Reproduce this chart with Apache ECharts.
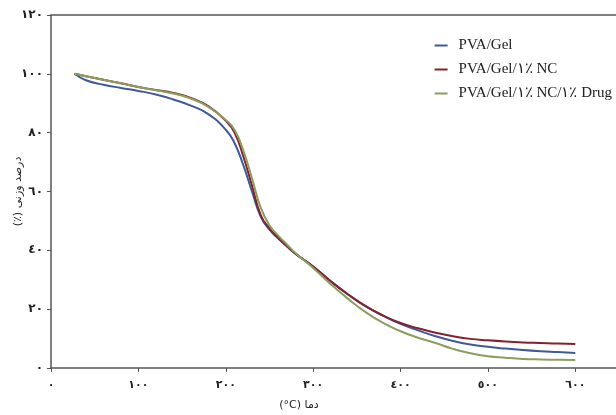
<!DOCTYPE html>
<html>
<head>
  <meta charset="UTF-8">
  <title>TGA</title>
  <script src="https://cdn.jsdelivr.net/npm/echarts@6/dist/echarts.min.js"></script>
  <style>
    html, body { margin: 0; padding: 0; background: #fff; }
    #chart { width: 616px; height: 415px; }
  </style>
</head>
<body>
  <div id="chart"></div>
  <script>
    // temperature (°C) and weight percent for each sample
    const temps = [27, 40, 60, 80, 100, 120, 140, 160, 180, 200, 210, 220, 230, 240, 250, 260, 270, 280, 300, 320, 340, 360, 380, 400, 420, 440, 460, 480, 500, 520, 540, 560, 580, 600]
    const pvaGel = [100, 97.8, 96.3, 95.2, 94.2, 93, 91.3, 89.2, 86.3, 81, 76.5, 69, 60, 51.5, 47, 44, 41.3, 38.8, 34.5, 29.5, 25, 21, 17.8, 15, 12.8, 10.8, 9.2, 8, 7.2, 6.6, 6.1, 5.7, 5.4, 5.1]
    const pvaGelNc = [100, 99.2, 98, 96.8, 95.5, 94.5, 93.5, 91.8, 89, 84, 80, 72, 62, 52, 47.5, 44.3, 41.5, 38.8, 34.5, 29.5, 25, 21, 17.8, 15.3, 13.5, 12, 10.8, 9.9, 9.4, 9, 8.7, 8.5, 8.3, 8.2]
    const pvaGelNcDrug = [100, 99.2, 98, 96.8, 95.5, 94.4, 93.3, 91.6, 88.8, 84.3, 81, 74, 64.5, 54.5, 48.5, 45, 42, 39, 34, 28.5, 23.5, 19, 15.3, 12.5, 10.3, 8.5, 6.5, 5, 4, 3.5, 3.1, 2.9, 2.8, 2.7]
    const names = ['PVA/Gel', 'PVA/Gel/١٪ NC', 'PVA/Gel/١٪ NC/١٪ Drug']
    const colors = ['#3e5a98', '#82222c', '#8c9e5e']

    const faDigits = '٠١٢٣٤٥٦٧٨٩'
    function toFa(v) {
      return String(v).replace(/[0-9]/g, d => faDigits[d])
    }

    const pair = arr => temps.map((t, i) => [t, arr[i]])

    const myChart = echarts.init(document.getElementById('chart'))
    const option = {
      animation: false,
      color: colors,
      grid: { left: 51, top: 15, bottom: 47, right: -3, outerBoundsMode: 'none', containLabel: false },
      legend: {
        right: -1,
        top: 33,
        orient: 'vertical',
        itemWidth: 13,
        itemHeight: 2,
        itemGap: 9,
        icon: 'rect',
        textStyle: { fontFamily: 'Liberation Serif', fontSize: 15, color: '#222', padding: [0, 0, 0, 6] },
        data: names
      },
      xAxis: [
        {
          type: 'value',
          min: 0,
          max: 650,
          interval: 100,
          name: '(°C) دما',
          nameLocation: 'middle',
          nameGap: 32,
          nameMoveOverlap: false,
          nameTextStyle: { fontSize: 11, color: '#222', fontFamily: 'DejaVu Sans', padding: [0, 72, 0, 0] },
          axisLine: { lineStyle: { color: '#555', width: 1.5 } },
          axisTick: { length: 4, lineStyle: { color: '#555' } },
          axisLabel: {
            showMaxLabel: false,
            margin: 12,
            fontSize: 11,
            fontWeight: 'bold',
            color: '#222',
            fontFamily: 'DejaVu Sans',
            formatter: v => toFa(v)
          },
          splitLine: { show: false }
        },
        {
          type: 'value',
          position: 'top',
          min: 0,
          max: 650,
          axisLine: { show: true, lineStyle: { color: '#555', width: 1.5 } },
          axisTick: { show: false },
          axisLabel: { show: false },
          splitLine: { show: false }
        }
      ],
      yAxis: {
        type: 'value',
        min: 0,
        max: 120,
        interval: 20,
        name: '(٪) درصد وزنی',
        nameLocation: 'middle',
        nameRotate: 90,
        nameGap: 27,
        nameMoveOverlap: false,
        nameTextStyle: { fontSize: 11, color: '#222', fontFamily: 'DejaVu Sans' },
        axisLine: { show: true, lineStyle: { color: '#555', width: 1.5 } },
        axisTick: { show: true, length: 4, lineStyle: { color: '#555' } },
        axisLabel: {
          margin: 8,
          fontSize: 12,
          fontWeight: 'bold',
          color: '#222',
          fontFamily: 'DejaVu Sans',
          formatter: v => toFa(v)
        },
        splitLine: { show: false }
      },
      series: [
        { name: names[0], type: 'line', smooth: true, showSymbol: false, lineStyle: { width: 2 }, data: pair(pvaGel) },
        { name: names[1], type: 'line', smooth: true, showSymbol: false, lineStyle: { width: 2 }, data: pair(pvaGelNc) },
        { name: names[2], type: 'line', smooth: true, showSymbol: false, lineStyle: { width: 2 }, data: pair(pvaGelNcDrug) }
      ]
    }
    myChart.setOption(option)
  </script>
</body>
</html>
